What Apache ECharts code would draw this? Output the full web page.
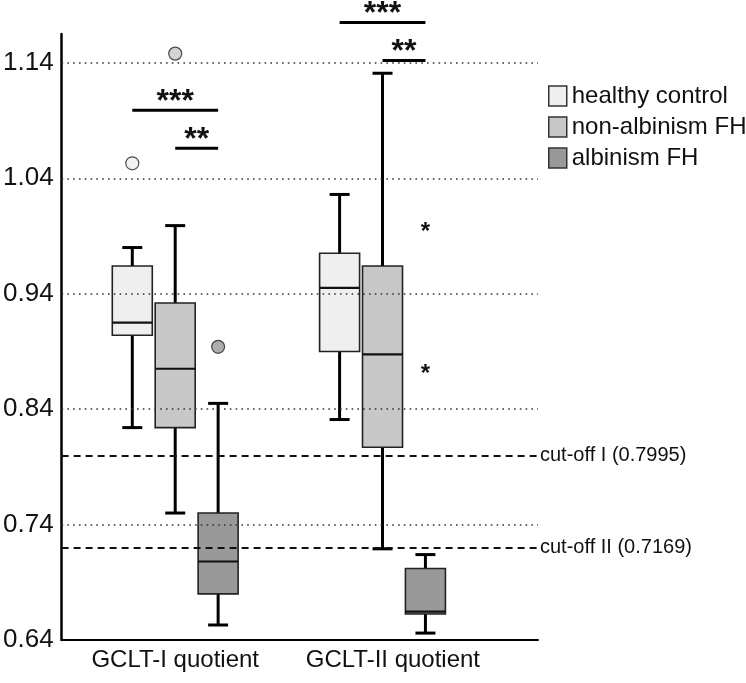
<!DOCTYPE html>
<html>
<head>
<meta charset="utf-8">
<script src="https://cdn.jsdelivr.net/npm/echarts@6/dist/echarts.min.js"></script>
<style>html,body{margin:0;padding:0;background:#fff;}#chart{width:746px;height:683px;}</style>
</head>
<body>
<div id="chart"></div>
<script>
// ---- data ----
const categories = ['GCLT-I quotient', 'GCLT-II quotient'];
const groupNames = ['healthy control', 'non-albinism FH', 'albinism FH'];
// [min whisker, Q1, median, Q3, max whisker] per category
const healthyControl = [[0.824, 0.904, 0.915, 0.964, 0.980], [0.831, 0.890, 0.945, 0.975, 1.026]];
const nonAlbinismFH  = [[0.750, 0.824, 0.875, 0.932, 0.999], [0.719, 0.807, 0.8875, 0.964, 1.131]];
const albinismFH     = [[0.653, 0.680, 0.708, 0.750, 0.845], [0.646, 0.6625, 0.6645, 0.702, 0.714]];
// [categoryIndex, groupIndex, value]
const outliers = [[0, 0, 1.053], [0, 1, 1.148], [0, 2, 0.894]];
const extremes = [[1, 2, 0.998], [1, 2, 0.875]];
const cutoffNames = ['cut-off I (0.7995)', 'cut-off II (0.7169)'];
const cutoffValues = [0.7995, 0.7169];
const yTicks = [0.64, 0.74, 0.84, 0.94, 1.04, 1.14];
// [categoryIndex, fromGroup, toGroup, yValue, label]
const significance = [[0, 0, 2, 1.099, '***'], [0, 1, 2, 1.066, '**'], [1, 0, 2, 1.175, '***'], [1, 1, 2, 1.142, '**']];

// ---- layout / style ----
const groupOffset = [-0.207, 0, 0.207];
const fills = ['#efefef', '#c8c8c8', '#999999'];
const FONT = 'Liberation Sans, Arial, sans-serif';
const BOX_HALF = 20, CAP_HALF = 10;
const xOf = (cat, g) => cat + 1 + groupOffset[g];

function boxRender(g) {
  return function (params, api) {
    const cat = api.value(0);
    const x = xOf(cat, g);
    const lo = api.coord([x, api.value(1)]);
    const q1 = api.coord([x, api.value(2)]);
    const md = api.coord([x, api.value(3)]);
    const q3 = api.coord([x, api.value(4)]);
    const hi = api.coord([x, api.value(5)]);
    const cx = lo[0];
    const wStyle = { stroke: '#000', lineWidth: 3 };
    return {
      type: 'group',
      children: [
        { type: 'line', shape: { x1: cx, y1: hi[1], x2: cx, y2: q3[1] }, style: wStyle },
        { type: 'line', shape: { x1: cx, y1: lo[1], x2: cx, y2: q1[1] }, style: wStyle },
        { type: 'line', shape: { x1: cx - CAP_HALF, y1: hi[1], x2: cx + CAP_HALF, y2: hi[1] }, style: wStyle },
        { type: 'line', shape: { x1: cx - CAP_HALF, y1: lo[1], x2: cx + CAP_HALF, y2: lo[1] }, style: wStyle },
        { type: 'rect', shape: { x: cx - BOX_HALF, y: q3[1], width: BOX_HALF * 2, height: q1[1] - q3[1] },
          style: { fill: fills[g], stroke: '#222', lineWidth: 1.6 } },
        { type: 'line', shape: { x1: cx - BOX_HALF, y1: md[1], x2: cx + BOX_HALF, y2: md[1] },
          style: { stroke: '#111', lineWidth: 2.2 } }
      ]
    };
  };
}

const groupData = [healthyControl, nonAlbinismFH, albinismFH];
const series = [];
groupData.forEach((arr, g) => {
  series.push({
    name: groupNames[g],
    type: 'custom',
    z: 3,
    itemStyle: { color: fills[g], borderColor: '#333', borderWidth: 1.5 },
    encode: { x: 0, y: [1, 2, 3, 4, 5] },
    data: arr.map((v, i) => [i].concat(v)),
    renderItem: boxRender(g)
  });
});

// outliers
series.push({
  type: 'scatter',
  z: 4,
  symbol: 'circle',
  symbolSize: 13,
  data: outliers.map(o => ({ value: [xOf(o[0], o[1]), o[2]], itemStyle: { color: fills[o[1]], borderColor: '#222', borderWidth: 1.2 } }))
});

// extreme values (*)
series.push({
  type: 'custom',
  z: 4,
  data: extremes.map(e => [xOf(e[0], e[1]), e[2]]),
  renderItem: function (params, api) {
    const p = api.coord([api.value(0), api.value(1)]);
    const fs = 24;
    return { type: 'text', x: p[0], y: p[1] + 0.22 * fs,
      style: { text: '*', fontSize: fs, fontFamily: FONT, fontWeight: 'bold', fill: '#111', align: 'center', verticalAlign: 'middle' } };
  }
});

// significance brackets
series.push({
  type: 'custom',
  z: 5,
  clip: false,
  data: significance.map(s => [xOf(s[0], s[1]), xOf(s[0], s[2]), s[3]]),
  renderItem: function (params, api) {
    const a = api.coord([api.value(0), api.value(2)]);
    const b = api.coord([api.value(1), api.value(2)]);
    const label = significance[params.dataIndex][4];
    const fs = 32;
    return {
      type: 'group',
      children: [
        { type: 'line', shape: { x1: a[0], y1: a[1], x2: b[0], y2: b[1] }, style: { stroke: '#000', lineWidth: 3 } },
        { type: 'text', x: (a[0] + b[0]) / 2, y: a[1] - 14.5 + 0.19 * fs,
          style: { text: label, fontSize: fs, fontFamily: FONT, fontWeight: 'bold', fill: '#111', align: 'center', verticalAlign: 'middle' } }
      ]
    };
  }
});

// grid lines and cut-offs
series.push({
  type: 'line',
  z: 1,
  data: [],
  markLine: {
    silent: true,
    symbol: 'none',
    animation: false,
    data: yTicks.slice(1).map(v => ({ yAxis: v, lineStyle: { type: [1.6, 4.2], color: '#333', width: 1.6 }, label: { show: false } }))
      .concat(cutoffValues.map((v, i) => ({ yAxis: v,
        lineStyle: { type: [7, 5], color: '#111', width: 2.2 },
        label: { show: true, position: 'end', distance: 2, formatter: cutoffNames[i], fontSize: 20, fontFamily: FONT, color: '#111' } })))
  }
});

const chart = echarts.init(document.getElementById('chart'), null, { renderer: 'canvas' });
chart.setOption({
  animation: false,
  backgroundColor: '#fff',
  grid: { left: 60, right: 208, top: 34, bottom: 43, containLabel: false },
  legend: {
    orient: 'vertical',
    left: 548,
    top: 84,
    padding: 0,
    icon: 'rect',
    itemWidth: 18,
    itemHeight: 20,
    itemGap: 7,
    textStyle: { fontSize: 24, fontFamily: FONT, color: '#111', lineHeight: 20 },
    data: groupNames.map((n, g) => ({ name: n, itemStyle: { color: fills[g], borderColor: '#333', borderWidth: 1.5 } }))
  },
  xAxis: {
    type: 'value',
    min: 0.452,
    max: 2.75,
    splitLine: { show: false },
    axisTick: { show: false },
    axisLine: { onZero: false, lineStyle: { color: '#000', width: 2 } },
    axisLabel: {
      customValues: [1, 2.05],
      formatter: v => categories[Math.round(v) - 1],
      fontSize: 24, fontFamily: FONT, color: '#111', margin: 8
    }
  },
  yAxis: {
    type: 'value',
    min: 0.64,
    max: 1.165,
    splitLine: { show: false },
    axisTick: { show: false },
    axisLine: { show: true, lineStyle: { color: '#000', width: 2.5 } },
    axisLabel: {
      customValues: yTicks,
      formatter: v => v.toFixed(2),
      fontSize: 26, fontFamily: FONT, color: '#111', margin: 8
    }
  },
  series: series
});
</script>
</body>
</html>
